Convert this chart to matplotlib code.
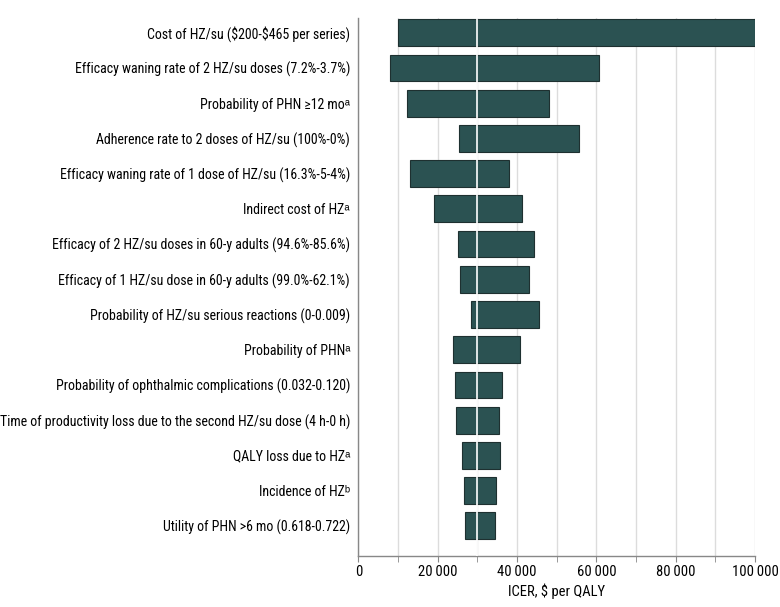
import matplotlib
matplotlib.use("Agg")
import matplotlib.pyplot as plt
from matplotlib.ticker import MultipleLocator, FuncFormatter

# Tornado diagram: one-way sensitivity of the ICER
params = [
    "Cost of HZ/su (\\$200-\\$465 per series)",
    "Efficacy waning rate of 2 HZ/su doses (7.2%-3.7%)",
    "Probability of PHN \u226512 mo\u1d43",
    "Adherence rate to 2 doses of HZ/su (100%-0%)",
    "Efficacy waning rate of 1 dose of HZ/su (16.3%-5-4%)",
    "Indirect cost of HZ\u1d43",
    "Efficacy of 2 HZ/su doses in 60-y adults (94.6%-85.6%)",
    "Efficacy of 1 HZ/su dose in 60-y adults (99.0%-62.1%)",
    "Probability of HZ/su serious reactions (0-0.009)",
    "Probability of PHN\u1d43",
    "Probability of ophthalmic complications (0.032-0.120)",
    "Time of productivity loss due to the second HZ/su dose (4 h-0 h)",
    "QALY loss due to HZ\u1d43",
    "Incidence of HZ\u1d47",
    "Utility of PHN >6 mo (0.618-0.722)",
]
low = [10000, 7900, 12300, 25400, 12900, 19200, 25000, 25700, 28400,
       23900, 24400, 24700, 26200, 26700, 26900]
high = [100000, 60600, 48000, 55500, 38100, 41200, 44400, 43100, 45500,
        40700, 36100, 35500, 35600, 34800, 34400]
base_icer = 30000

plt.rcParams['font.family'] = ['Roboto Condensed', 'Liberation Sans', 'DejaVu Sans']

fig = plt.figure(figsize=(7.8, 6.07), dpi=100)
ax = fig.add_axes([0.4594, 0.0845, 0.5086, 0.8858])

ypos = list(range(len(params)))
widths = [h - l for l, h in zip(low, high)]
ax.barh(ypos, widths, left=low, height=0.76, color='#2b5252',
        edgecolor='#1e3030', linewidth=0.8, zorder=2)
ax.axvline(base_icer, color='white', linewidth=1.2, zorder=3)

ax.set_xlim(0, 100000)
ax.set_ylim(14.85, -0.42)
ax.set_yticks(ypos)
ax.set_yticklabels(params, fontsize=10)
ax.tick_params(axis='y', length=0, pad=6)

ax.xaxis.set_major_locator(MultipleLocator(20000))
ax.xaxis.set_minor_locator(MultipleLocator(10000))
ax.xaxis.set_major_formatter(FuncFormatter(
    lambda v, p: f"{int(v):,}".replace(",", "\u2009")))
ax.tick_params(axis='x', which='both', length=4, color='#888888',
               labelsize=10.5, pad=3)
ax.grid(axis='x', which='both', color='#dcdcdc', linewidth=1, zorder=0)
ax.set_axisbelow(True)

for s in ['top', 'right']:
    ax.spines[s].set_visible(False)
for s in ['left', 'bottom']:
    ax.spines[s].set_color('#888888')
    ax.spines[s].set_linewidth(1)

ax.set_xlabel("ICER, \\$ per QALY", fontsize=10.5, labelpad=3)

fig.savefig("out.png", dpi=100)
